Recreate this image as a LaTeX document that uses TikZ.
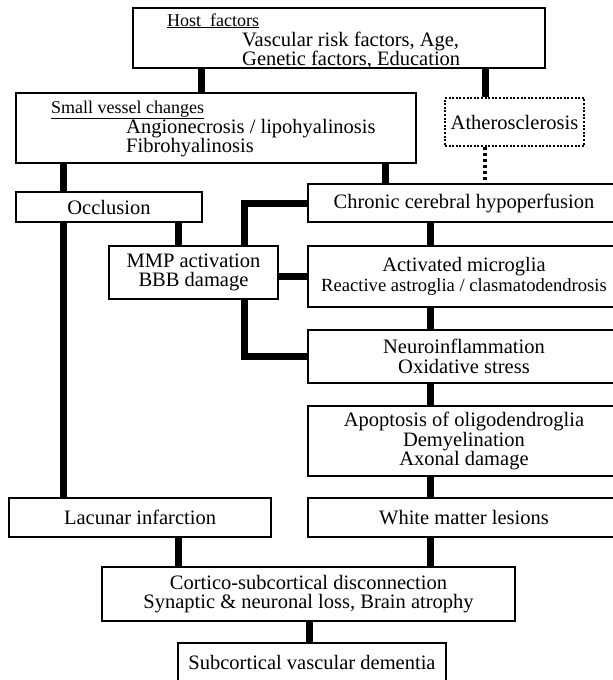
\documentclass[tikz,border=0pt]{standalone}
\usepackage{fontspec}
\setmainfont{Liberation Serif}
\newcommand\boxfont{\fontsize{20.5}{19.5}\selectfont}
\newcommand\headfont{\fontsize{18}{19.5}\selectfont}
\newcommand\subfont{\fontsize{18.6}{19.5}\selectfont}

\begin{document}
\begin{tikzpicture}[
    x=1pt,
    y=-1pt,
    box/.style={draw,line width=2pt,inner sep=0pt,align=center,font=\boxfont},
    dotbox/.style={box,line width=2.4pt,dash pattern=on 2pt off 1.6pt},
    link/.style={line width=7pt},
    dotlink/.style={line width=3.5pt,dash pattern=on 3pt off 3pt},
    headtext/.style={anchor=base west,inner sep=0pt,font=\headfont},
    bodytext/.style={anchor=base west,inner sep=0pt,font=\boxfont}
  ]
    \useasboundingbox (0,0) rectangle (613,680);
    \clip (0,0) rectangle (613,680);

    \node[box,minimum width=412pt,minimum height=60pt] (host) at (339,38) {};
    \node[headtext] (hosthead) at (167,26) {\underline{Host\ \ factors}};
    \node[bodytext] (hostrisk) at (242,46.5) {Vascular risk factors, Age,};
    \node[bodytext] (hostgene) at (242,65.5) {Genetic factors, Education};

    \node[box,minimum width=400pt,minimum height=70pt] (small) at (216,128) {};
    \node[headtext] (smallhead) at (51,113) {\underline{Small vessel changes}};
    \node[bodytext] (smallangio) at (126,133) {Angionecrosis / lipohyalinosis};
    \node[bodytext] (smallfibro) at (126,152) {Fibrohyalinosis};

    \node[dotbox,minimum width=139pt,minimum height=48pt] (athero) at (514.5,122)
      {Atherosclerosis};
    \node[box,minimum width=186pt,minimum height=30pt] (occl) at (109,207)
      {Occlusion};
    \node[box,minimum width=169pt,minimum height=53pt] (mmp) at (193.5,272.5)
      {MMP activation\\BBB damage};

    \node[box,minimum width=312pt,minimum height=38pt] (chronic) at (464,203)
      {Chronic cerebral hypoperfusion};
    \node[box,minimum width=312pt,minimum height=61pt] (activ) at (464,276.5)
      {Activated microglia\\{\subfont Reactive astroglia / clasmatodendrosis}};
    \node[box,minimum width=312pt,minimum height=53pt] (neuro) at (464,356.5)
      {Neuroinflammation\\Oxidative stress};
    \node[box,minimum width=312pt,minimum height=70pt] (apop) at (464,441)
      {Apoptosis of oligodendroglia\\Demyelination\\Axonal damage};
    \node[box,minimum width=312pt,minimum height=39pt] (white) at (464,517.5)
      {White matter lesions};

    \node[box,minimum width=262pt,minimum height=39pt] (lacunar) at (140,517.5)
      {Lacunar infarction};
    \node[box,minimum width=413pt,minimum height=54pt] (cortico) at (308.5,594)
      {Cortico-subcortical disconnection\\Synaptic \& neuronal loss, Brain atrophy};
    \node[box,minimum width=268pt,minimum height=38pt] (subcort) at (312,662)
      {Subcortical vascular dementia};

    \draw[link] (201,0 |- host.south) -- (201,0 |- small.north);
    \draw[link] (485,0 |- host.south) -- (485,0 |- athero.north);
    \draw[dotlink] (485,0 |- athero.south) -- (485,0 |- chronic.north);
    \draw[link] (63,0 |- small.south) -- (63,0 |- occl.north);
    \draw[link] (385,0 |- small.south) -- (385,0 |- chronic.north);
    \draw[link] (63,0 |- occl.south) -- (63,0 |- lacunar.north);
    \draw[link] (178,0 |- occl.south) -- (178,0 |- mmp.north);

    \draw[link] (244,0 |- mmp.north) |- (chronic.west);
    \draw[link] (mmp.east |- activ.west) -- (activ.west);
    \draw[link] (244,0 |- mmp.south) |- (neuro.west);

    \foreach \a/\b in {chronic/activ,activ/neuro,neuro/apop,apop/white,white/cortico}
      \draw[link] (430,0 |- \a.south) -- (430,0 |- \b.north);
    \draw[link] (178,0 |- lacunar.south) -- (178,0 |- cortico.north);
    \draw[link] (309,0 |- cortico.south) -- (309,0 |- subcort.north);
  \end{tikzpicture}
\end{document}
